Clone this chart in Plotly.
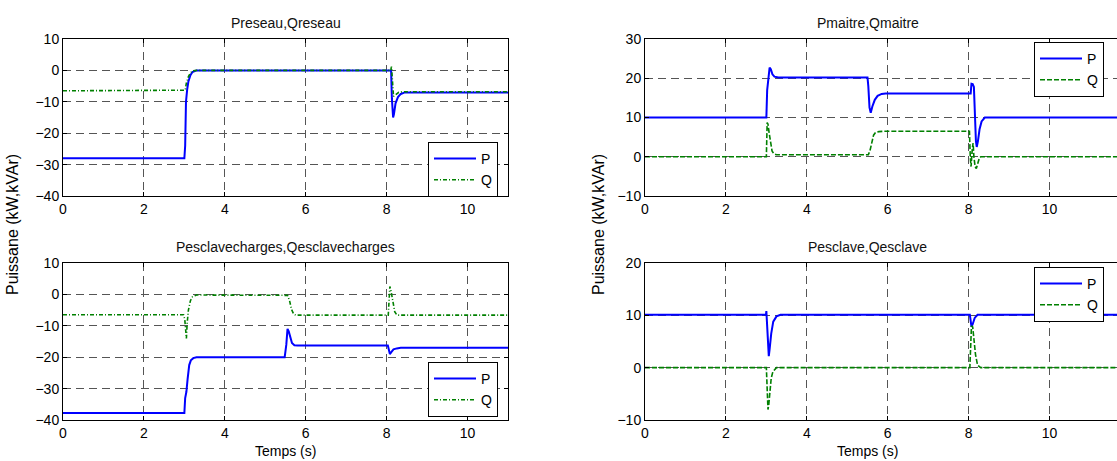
import plotly.graph_objects as go

W, H = 1117, 461

# ---------------- data ----------------
# Preseau, Qreseau
t_p_reseau = [0, 3.0, 3.02, 3.04, 3.07, 3.1, 3.15, 3.2, 3.3, 8.11, 8.13, 8.16, 8.18, 8.22, 8.28, 8.35, 8.45, 12]
p_reseau = [-28, -28, -24, -10, -6, -3.5, -1.5, -0.5, 0, 0, -9, -15, -14, -10.5, -8.5, -7.5, -7, -7]
t_q_reseau = [0, 2.98, 3.02, 3.05, 3.1, 3.15, 3.2, 3.3, 8.1, 8.12, 8.14, 8.17, 8.22, 8.3, 8.4, 12]
q_reseau = [-6.5, -6.5, -6.3, -4, -2, -0.8, -0.2, 0, 0, 1.2, -4, -8.3, -7.8, -7, -6.8, -6.8]

# Pmaitre, Qmaitre
t_p_maitre = [0, 3.0, 3.02, 3.05, 3.08, 3.11, 3.15, 3.2, 3.3, 5.5, 5.52, 5.55, 5.58, 5.62, 5.68,
              5.75, 5.85, 5.95, 8.05, 8.07, 8.1, 8.13, 8.15, 8.18, 8.2, 8.23, 8.27, 8.32, 8.4, 12]
p_maitre = [10, 10, 17, 21, 22.7, 22.3, 21, 20.4, 20.2, 20.2, 18, 12.5, 11.2, 12.8, 14.5,
            15.5, 16, 16.1, 16.1, 18.6, 18.5, 17.8, 10, 4, 2.5, 4, 7, 9, 10, 10]
t_q_maitre = [0, 3.0, 3.02, 3.04, 3.07, 3.1, 3.14, 3.18, 3.25, 3.4, 5.52, 5.56, 5.6, 5.65, 5.7,
              5.78, 5.9, 6.2, 8.02, 8.04, 8.06, 8.09, 8.11, 8.13, 8.16, 8.19, 8.22, 8.26, 8.3, 12]
q_maitre = [0, 0, 8.7, 8.3, 6, 3.5, 1.5, 0.8, 0.5, 0.5, 0.5, 1.5, 3.5, 5.5, 6.2,
            6.4, 6.5, 6.5, 6.5, 0, -2.5, 2, 3.5, 0, -2.5, -3, -2, -0.5, 0, 0]

# Pesclavecharges, Qesclavecharges
t_p_charges = [0, 3.0, 3.02, 3.04, 3.05, 3.08, 3.12, 3.16, 3.22, 3.3, 5.48, 5.52, 5.55, 5.58, 5.62,
               5.66, 5.72, 5.8, 8.03, 8.06, 8.08, 8.12, 8.17, 8.25, 8.35, 12]
p_charges = [-37.8, -37.8, -33, -31.5, -31, -27, -22.5, -21, -20.3, -20, -20, -16, -11, -11.8, -14,
             -15.5, -16.2, -16.3, -16.3, -18, -19, -18.3, -17.5, -17.2, -17, -17]
t_q_charges = [0, 2.98, 3.01, 3.03, 3.05, 3.07, 3.1, 3.15, 3.2, 3.3, 5.55, 5.6, 5.65, 5.7, 5.75,
               8.04, 8.06, 8.08, 8.11, 8.15, 8.2, 8.25, 8.3, 12]
q_charges = [-6.5, -6.5, -8, -12, -14, -9, -5, -2, -0.8, -0.2, -0.3, -2, -4.8, -6.2, -6.6,
             -6.6, 0, 2.5, 1, -2.5, -5.5, -6.5, -6.6, -6.6]

# Pesclave, Qesclave
t_p_esclave = [0, 2.99, 3.0, 3.02, 3.04, 3.06, 3.08, 3.12, 3.17, 3.25, 3.35, 8.03, 8.05, 8.07, 8.1, 8.15, 8.22, 12]
p_esclave = [10.1, 10.1, 10.8, 8, 3, 2.2, 3.5, 6.5, 8.8, 9.8, 10.1, 10.1, 9, 7.8, 8.3, 9.5, 10.1, 10.1]
t_q_esclave = [0, 3.0, 3.02, 3.04, 3.06, 3.09, 3.12, 3.16, 3.25, 8.03, 8.05, 8.07, 8.1, 8.13, 8.17, 8.22, 8.3, 12]
q_esclave = [0, 0, -4, -8, -7, -4, -2, -0.8, 0, 0, 5, 8, 7.8, 5, 2.5, 0.5, 0, 0]

titles = ["Preseau,Qreseau", "Pmaitre,Qmaitre", "Pesclavecharges,Qesclavecharges", "Pesclave,Qesclave"]
y_ranges = [[-40, 10], [-10, 30], [-40, 10], [-10, 20]]
x_ticks = [0, 2, 4, 6, 8, 10]
ylabel = "Puissane (kW,kVAr)"
xlabel = "Temps (s)"

# ---------------- layout geometry (pixels) ----------------
def px(x):
    return x / W

def py(y):
    return 1 - y / H

left_x = [63, 508]
right_x = [645, 1117]
top_y = [39, 196]
bot_y = [263, 420]
left_range = [0, 11]
right_range = [0, (right_x[1] - right_x[0]) / ((left_x[1] - left_x[0]) / 11)]

BLUE = "#0000FF"
GREEN = "#008000"
FONT = "Arial, Liberation Sans, sans-serif"

panels = [
    dict(tp=t_p_reseau, p=p_reseau, tq=t_q_reseau, q=q_reseau, xd=left_x, yd=top_y, xr=left_range, qdash="4px,2px,1px,2px"),
    dict(tp=t_p_maitre, p=p_maitre, tq=t_q_maitre, q=q_maitre, xd=right_x, yd=top_y, xr=right_range, qdash="5px,2px"),
    dict(tp=t_p_charges, p=p_charges, tq=t_q_charges, q=q_charges, xd=left_x, yd=bot_y, xr=left_range, qdash="4px,2px,1px,2px"),
    dict(tp=t_p_esclave, p=p_esclave, tq=t_q_esclave, q=q_esclave, xd=right_x, yd=bot_y, xr=right_range, qdash="5px,2px"),
]

legend_pos = [
    dict(x=px(498), y=py(142), xanchor="right"),
    dict(x=px(1034), y=py(42), xanchor="left"),
    dict(x=px(498), y=py(362), xanchor="right"),
    dict(x=px(1034), y=py(267), xanchor="left"),
]

fig = go.Figure()
layout = dict(
    width=W, height=H,
    margin=dict(l=0, r=0, t=0, b=0, autoexpand=False),
    paper_bgcolor="white", plot_bgcolor="white",
    font=dict(family=FONT, size=14, color="black"),
    annotations=[],
)

for i, pn in enumerate(panels):
    n = i + 1
    xa = "x" if n == 1 else f"x{n}"
    ya = "y" if n == 1 else f"y{n}"
    lg = "legend" if n == 1 else f"legend{n}"
    fig.add_trace(go.Scatter(x=pn["tp"], y=pn["p"], mode="lines", name="P",
                             line=dict(color=BLUE, width=2), xaxis=xa, yaxis=ya, legend=lg))
    fig.add_trace(go.Scatter(x=pn["tq"], y=pn["q"], mode="lines", name="Q",
                             line=dict(color=GREEN, width=1.6, dash=pn["qdash"]), xaxis=xa, yaxis=ya, legend=lg))
    common = dict(showline=True, linecolor="black", linewidth=1, ticks="inside", ticklen=4,
                  tickcolor="black", showgrid=True, gridcolor="#555555", griddash="8px,5px",
                  gridwidth=1, zeroline=False, tickfont=dict(family=FONT, size=14, color="black"))
    xaxis = dict(common, domain=[px(pn["xd"][0]), px(pn["xd"][1])], range=pn["xr"],
                 tickvals=x_ticks, mirror="ticks", anchor=ya)
    yr = y_ranges[i]
    is_right = pn["xd"] is right_x
    yaxis = dict(common, domain=[py(pn["yd"][1]), py(pn["yd"][0])], range=yr,
                 tickvals=list(range(yr[0], yr[1] + 1, 10)),
                 mirror=(False if is_right else "ticks"), anchor=xa)
    layout["xaxis" if n == 1 else f"xaxis{n}"] = xaxis
    layout["yaxis" if n == 1 else f"yaxis{n}"] = yaxis
    layout[lg] = dict(legend_pos[i], yanchor="top", bgcolor="white", bordercolor="black",
                      borderwidth=1, font=dict(family=FONT, size=14, color="black"),
                      tracegroupgap=0, itemwidth=42)
    cx = (pn["xd"][0] + min(pn["xd"][1], pn["xd"][0] + (left_x[1] - left_x[0]))) / 2
    layout["annotations"].append(dict(text=titles[i], x=px(cx), y=py(pn["yd"][0] - 16),
                                      xref="paper", yref="paper", showarrow=False,
                                      font=dict(family=FONT, size=14, color="#111"),
                                      xanchor="center", yanchor="middle"))
    if pn["yd"] is bot_y:
        layout["annotations"].append(dict(text=xlabel, x=px(cx), y=py(451), xref="paper", yref="paper",
                                          showarrow=False, font=dict(family=FONT, size=14, color="black"),
                                          xanchor="center", yanchor="middle"))

for xlab in (12, 598):
    layout["annotations"].append(dict(text=ylabel, x=px(xlab), y=py(225), xref="paper", yref="paper",
                                      showarrow=False, textangle=-90,
                                      font=dict(family=FONT, size=16, color="black"),
                                      xanchor="center", yanchor="middle"))

fig.update_layout(layout)
fig.write_html("out.html", config={"displayModeBar": False},
               post_script="document.body.style.margin='0';")
